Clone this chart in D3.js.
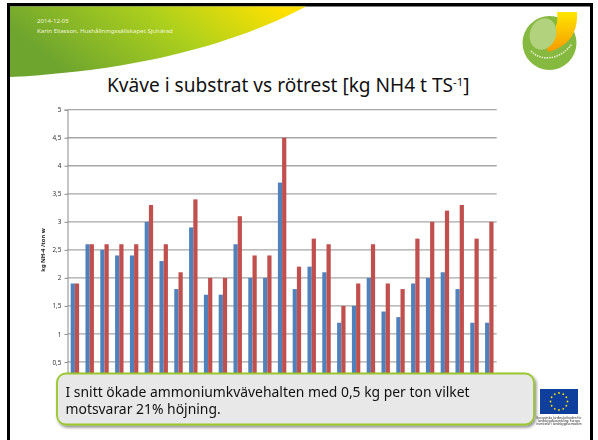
<!DOCTYPE html>
<html>
<head>
<meta charset="utf-8">
<script src="https://cdn.jsdelivr.net/npm/d3@7/dist/d3.min.js"></script>
<style>
  html, body { margin: 0; padding: 0; background: #fff; }
  svg { display: block; }
  text { font-family: "Noto Sans", sans-serif; }
</style>
</head>
<body>
<div id="chart"></div>
<script>
// values, one entry per sample
const substrat = [1.9, 2.6, 2.5, 2.4, 2.4, 3.0, 2.3, 1.8, 2.9, 1.7, 1.7, 2.6, 2.0, 2.0, 3.7, 1.8, 2.2, 2.1, 1.2, 1.5, 2.0, 1.4, 1.3, 1.9, 2.0, 2.1, 1.8, 1.2, 1.2];
const rotrest = [1.9, 2.6, 2.6, 2.6, 2.6, 3.3, 2.6, 2.1, 3.4, 2.0, 2.0, 3.1, 2.4, 2.4, 4.5, 2.2, 2.7, 2.6, 1.5, 1.9, 2.6, 1.9, 1.8, 2.7, 3.0, 3.2, 3.3, 2.7, 3.0];
const seriesNames = ['substrat', 'rotrest'];
const yTicks = [0.5, 1, 1.5, 2, 2.5, 3, 3.5, 4, 4.5, 5];
const headerLines = ['2014-12-05', 'Karin Eliasson, Hushållningssällskapet Sjuhärad'];
const calloutLines = ['I snitt ökade ammoniumkvävehalten med 0,5 kg per ton vilket', 'motsvarar 21% höjning.'];
const euLines = ['Europeiska Jordbruksfonden för', 'landsbygdsutveckling: Europa', 'investerar i landsbygdsområden'];

const width = 598;
const height = 440;

const svg = d3.select('#chart').append('svg')
  .attr('width', width)
  .attr('height', height);

const defs = svg.append('defs');

const swooshGrad = defs.append('linearGradient').attr('id', 'swoosh')
  .attr('x1', 0).attr('x2', 1).attr('y1', 0.3).attr('y2', 0);
swooshGrad.append('stop').attr('offset', '0%').attr('stop-color', '#6ea52e');
swooshGrad.append('stop').attr('offset', '50%').attr('stop-color', '#add01c');
swooshGrad.append('stop').attr('offset', '92%').attr('stop-color', '#ffe100');

const logoGrad = defs.append('linearGradient').attr('id', 'logoYellow')
  .attr('x1', 0).attr('x2', 0).attr('y1', 0).attr('y2', 1);
logoGrad.append('stop').attr('offset', '0%').attr('stop-color', '#ffe600');
logoGrad.append('stop').attr('offset', '100%').attr('stop-color', '#f59a00');

const shadow = defs.append('filter').attr('id', 'shadow')
  .attr('x', '-5%').attr('y', '-10%').attr('width', '110%').attr('height', '125%');
shadow.append('feDropShadow')
  .attr('dx', 1.5).attr('dy', 2).attr('stdDeviation', 1.5)
  .attr('flood-color', '#000').attr('flood-opacity', 0.45);

const soft = defs.append('filter').attr('id', 'soft');
soft.append('feGaussianBlur').attr('stdDeviation', 0.25);

// slide frame
svg.append('path')
  .attr('fill', '#000')
  .attr('fill-rule', 'evenodd')
  .attr('d', 'M7,3H593V440H7Z M10,6.5V440H590V6.5Z');

// header swoosh
svg.append('path')
  .attr('fill', 'url(#swoosh)')
  .attr('d', 'M10,6.5H306C262,30 180,62 62,73C40,75.5 24,76.5 10,77Z');

svg.append('g').selectAll('text')
  .data(headerLines)
  .enter()
  .append('text')
  .attr('x', 37)
  .attr('y', (d, i) => 22.5 + i * 10)
  .attr('fill', '#f3f6d8')
  .attr('font-size', 6.1)
  .text(d => d);

// logo
const logo = svg.append('g').attr('filter', 'url(#soft)');
logo.append('circle')
  .attr('cx', 549.5).attr('cy', 43).attr('r', 27)
  .attr('fill', '#86b940');
logo.append('path')
  .attr('fill', 'url(#logoYellow)')
  .attr('d', 'M557,12H577C578,32 570,46 548,52L545,40C554,34 559,24 557,12Z');
logo.append('ellipse')
  .attr('cx', 543).attr('cy', 34).attr('rx', 13).attr('ry', 16)
  .attr('transform', 'rotate(20 543 34)')
  .attr('fill', '#b2d27e');
logo.append('path')
  .attr('fill', 'none')
  .attr('stroke', '#e4efc8')
  .attr('stroke-width', 1.6)
  .attr('stroke-dasharray', '1.5 1')
  .attr('d', 'M531,51C541,62 560,60 572,44');

// title
const title = svg.append('text')
  .attr('x', 107)
  .attr('y', 92)
  .attr('font-size', 19.1)
  .attr('fill', '#111');
title.append('tspan').text('Kväve i substrat vs rötrest [kg NH4 t TS');
title.append('tspan').attr('dy', -6).attr('font-size', 11.5).text('-1');
title.append('tspan').attr('dy', 6).text(']');

// chart
const x0 = d3.scaleBand()
  .domain(d3.range(substrat.length))
  .range([67.5, 496.7])
  .paddingInner(0.43)
  .paddingOuter(0.215);

const x1 = d3.scaleBand()
  .domain(seriesNames)
  .range([0, x0.bandwidth()]);

const y = d3.scaleLinear()
  .domain([0, 5])
  .range([390, 109.7]);

const color = d3.scaleOrdinal()
  .domain(seriesNames)
  .range(['#4f81bd', '#c0504d']);

const plot = svg.append('g').attr('filter', 'url(#soft)');

const yAxis = d3.axisLeft(y)
  .tickValues(yTicks)
  .tickSize(3)
  .tickPadding(3)
  .tickFormat(d => String(d).replace('.', ','));

const grid = plot.append('g');
grid.selectAll('line')
  .data(yTicks)
  .enter()
  .append('line')
  .attr('x1', 67.5)
  .attr('x2', 496.7)
  .attr('y1', d => y(d))
  .attr('y2', d => y(d))
  .attr('stroke', '#a6a6a6')
  .attr('stroke-width', 1.3);

const axisG = plot.append('g')
  .attr('transform', 'translate(67.5,0)')
  .call(yAxis);
axisG.select('.domain').attr('stroke', '#8a8a8a').attr('stroke-width', 1);
axisG.selectAll('.tick line').attr('stroke', '#8a8a8a');
axisG.selectAll('.tick text')
  .attr('fill', '#333')
  .attr('font-size', 6.4)
  .attr('font-family', '"Noto Sans", sans-serif');

plot.append('text')
  .attr('transform', 'translate(45,250) rotate(-90)')
  .attr('text-anchor', 'middle')
  .attr('font-size', 5.8)
  .attr('font-weight', 'bold')
  .attr('fill', '#222')
  .text('kg NH-4 /ton w');

const groups = plot.append('g').selectAll('g')
  .data(substrat.map((d, i) => ({ i, substrat: d, rotrest: rotrest[i] })))
  .enter()
  .append('g')
  .attr('transform', d => `translate(${x0(d.i)},0)`);

groups.selectAll('rect')
  .data(d => seriesNames.map(name => ({ name, value: d[name] })))
  .enter()
  .append('rect')
  .attr('x', d => x1(d.name))
  .attr('y', d => y(d.value))
  .attr('width', x1.bandwidth())
  .attr('height', d => y(0) - y(d.value))
  .attr('fill', d => color(d.name));

// callout over the bottom of the chart
svg.append('rect')
  .attr('x', 57)
  .attr('y', 373.5)
  .attr('width', 477)
  .attr('height', 51)
  .attr('rx', 9)
  .attr('fill', '#e8e8e8')
  .attr('stroke', '#9ac62f')
  .attr('stroke-width', 1.8)
  .attr('filter', 'url(#shadow)');

svg.append('g').selectAll('text')
  .data(calloutLines)
  .enter()
  .append('text')
  .attr('x', 65.5)
  .attr('y', (d, i) => 396.5 + i * 17.5)
  .attr('font-size', 13.9)
  .attr('fill', '#111')
  .text(d => d);

// EU flag
const flagCx = 559;
const flagCy = 401.5;
svg.append('rect')
  .attr('x', 540).attr('y', 389)
  .attr('width', 38).attr('height', 25)
  .attr('fill', '#0f3f9c');
svg.append('g').selectAll('circle')
  .data(d3.range(12))
  .enter()
  .append('circle')
  .attr('cx', i => flagCx + 8.5 * Math.sin(i * Math.PI / 6))
  .attr('cy', i => flagCy - 8.5 * Math.cos(i * Math.PI / 6))
  .attr('r', 0.9)
  .attr('fill', '#ffe000');
svg.append('g').selectAll('text')
  .data(euLines)
  .enter()
  .append('text')
  .attr('x', 559)
  .attr('y', (d, i) => 418.5 + i * 3.2)
  .attr('text-anchor', 'middle')
  .attr('font-size', 3)
  .attr('fill', '#222')
  .text(d => d);
</script>
</body>
</html>
